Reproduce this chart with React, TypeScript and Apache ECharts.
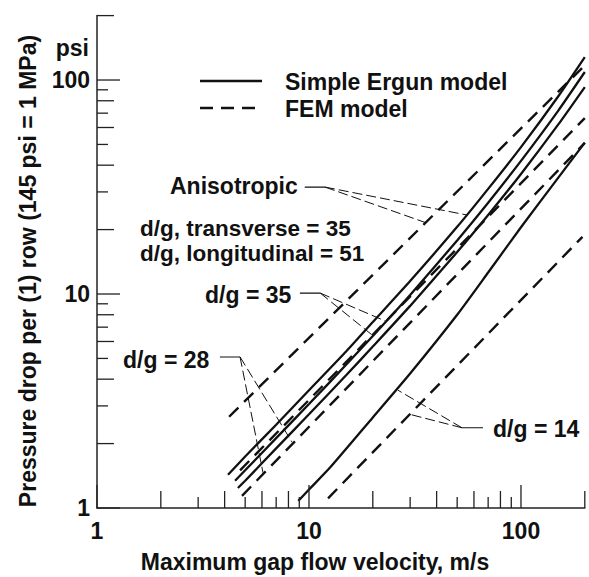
import React, { useEffect, useRef } from 'react';
import * as echarts from 'echarts';

// ---- axis ticks ----
const xMajorTicks = [1, 10, 100];
const xMinorLongTicks = [2, 4, 6, 8, 20, 40, 60, 80, 200];
const xMinorShortTicks = [3, 5, 7, 9, 30, 50, 70, 90];
const yMajorTicks = [1, 10, 100];
const yMinorLongTicks = [2, 4, 6, 8, 20, 40, 60, 80, 200];
const yMinorShortTicks = [3, 5, 7, 9, 30, 50, 70, 90];

// ---- Simple Ergun model (solid) ----
const anisoErgunX = [4.15, 5, 7, 10, 15, 20, 30, 50, 70, 100, 150, 200];
const anisoErgunY = [1.43, 1.74, 2.45, 3.55, 5.4, 7.4, 11.5, 20.6, 31, 48.6, 84, 128];
const dg35ErgunX = [4.48, 5, 7, 10, 15, 20, 30, 50, 70, 100, 150, 200];
const dg35ErgunY = [1.34, 1.5, 2.12, 3.06, 4.68, 6.37, 9.9, 17.8, 26.7, 41.9, 72, 109];
const dg28ErgunX = [4.62, 5, 7, 10, 15, 20, 30, 50, 70, 100, 150, 200];
const dg28ErgunY = [1.24, 1.34, 1.9, 2.74, 4.18, 5.68, 8.8, 15.7, 23.4, 36.4, 62, 92.7];
const dg14ErgunX = [8.9, 10, 12.6, 20, 30, 50, 70, 100, 150, 200];
const dg14ErgunY = [1.08, 1.22, 1.55, 2.65, 4.25, 8.0, 12.6, 20.5, 35, 51];

// ---- FEM model (dashed) ----
const anisoFemX = [4.2, 200];
const anisoFemY = [2.67, 117];
const dg35FemX = [4.73, 200];
const dg35FemY = [1.5, 66.4];
const dg28FemX = [4.83, 200];
const dg28FemY = [1.14, 50.8];
const dg14FemX = [12.3, 195];
const dg14FemY = [1.11, 18.5];

// ---- annotation leaders (data coordinates) ----
const anisoConnector = [[9.55, 31.6], [11.9, 31.6]];
const anisoLeaderA = [[11.9, 31.6], [55.6, 23.4]];
const anisoLeaderB = [[11.9, 31.6], [35.3, 21.6]];
const dg35Connector = [[9.06, 10.1], [11.3, 10.1]];
const dg35LeaderA = [[11.3, 10.1], [19.8, 6.45]];
const dg35LeaderB = [[11.3, 10.1], [23.1, 7.45]];
const dg28Connector = [[3.8, 5.08], [4.73, 5.08]];
const dg28LeaderA = [[4.73, 5.08], [6.07, 1.46]];
const dg28LeaderB = [[4.73, 5.08], [8.32, 2.03]];
const dg14Connector = [[52.7, 2.37], [66.2, 2.37]];
const dg14LeaderA = [[52.7, 2.37], [26.3, 3.55]];
const dg14LeaderB = [[52.7, 2.37], [29.9, 2.74]];

const FONT = '"Liberation Sans", Arial, Helvetica, sans-serif';
const FS = 23;
const INK = '#111';

export default function App() {
  const ref = useRef<HTMLDivElement>(null);

  useEffect(() => {
    const chart = echarts.init(ref.current!, null, { renderer: 'svg' });
    const zip = (xs: number[], ys: number[]) => xs.map((x, i) => [x, ys[i]]);

    const solid = (name: string, xs: number[], ys: number[]) => ({
      type: 'line', name, data: zip(xs, ys), symbol: 'none', showSymbol: false,
      smooth: 0.2, silent: true, z: 3,
      lineStyle: { color: INK, width: 2.3 },
    });
    const dashed = (name: string, xs: number[], ys: number[]) => ({
      type: 'line', name, data: zip(xs, ys), symbol: 'none', showSymbol: false,
      silent: true, z: 3,
      lineStyle: { color: INK, width: 2.4, type: [13, 8] },
    });
    const leader = (pts: number[][]) => ({
      type: 'line', data: pts, symbol: 'none', showSymbol: false, silent: true, z: 4,
      lineStyle: { color: INK, width: 1, type: [10, 4] },
    });
    const connector = (pts: number[][]) => ({
      type: 'line', data: pts, symbol: 'none', showSymbol: false, silent: true, z: 4,
      lineStyle: { color: INK, width: 1.1 },
    });
    const ticks = (vals: number[], axis: 'x' | 'y', len: number) => ({
      type: 'custom', silent: true, z: 5,
      data: vals.map((v) => (axis === 'x' ? [v, 1] : [1, v])),
      renderItem: (_p: any, api: any) => {
        const p = api.coord([api.value(0), api.value(1)]);
        const shape = axis === 'x'
          ? { x1: p[0], y1: p[1], x2: p[0], y2: p[1] - len }
          : { x1: p[0], y1: p[1], x2: p[0] + len, y2: p[1] };
        return { type: 'line', shape, style: { stroke: '#222', lineWidth: 1.3 } };
      },
    });

    const isDecade = (v: number) => Math.abs(Math.log10(v) - Math.round(Math.log10(v))) < 1e-6;
    const labelFmt = (v: number) => (isDecade(v) ? String(Math.round(v)) : '');

    const txt = (text: string, x: number, y: number, align = 'left', extra: any = {}, size = FS) => ({
      type: 'text', x, y, ...extra,
      style: {
        text, x: 0, y: 0, fill: INK, font: `bold ${size}px ${FONT}`,
        textAlign: align, textVerticalAlign: 'middle', align, verticalAlign: 'middle',
      },
    });

    chart.setOption({
      animation: false,
      backgroundColor: '#fff',
      grid: { left: 97, top: 15.6, width: 487.8, height: 492.4, containLabel: false },
      xAxis: {
        type: 'log', logBase: 10, min: 1, max: 200,
        axisLine: { lineStyle: { color: '#222', width: 1.5 } },
        axisTick: { show: false },
        splitLine: { show: false },
        minorTick: { show: false },
        axisLabel: { formatter: labelFmt, margin: 11, color: INK, fontFamily: FONT, fontWeight: 'bold', fontSize: FS },
      },
      yAxis: {
        type: 'log', logBase: 10, min: 1, max: 200,
        axisLine: { show: true, lineStyle: { color: '#222', width: 1.5 } },
        axisTick: { show: false },
        splitLine: { show: false },
        minorTick: { show: false },
        axisLabel: { formatter: labelFmt, margin: 7, color: INK, fontFamily: FONT, fontWeight: 'bold', fontSize: FS },
      },
      series: [
        ticks(xMajorTicks, 'x', 23),
        ticks(xMinorLongTicks, 'x', 17),
        ticks(xMinorShortTicks, 'x', 11),
        ticks(yMajorTicks, 'y', 23),
        ticks(yMinorLongTicks, 'y', 17),
        ticks(yMinorShortTicks, 'y', 11),
        solid('Anisotropic Ergun', anisoErgunX, anisoErgunY),
        solid('d/g=35 Ergun', dg35ErgunX, dg35ErgunY),
        solid('d/g=28 Ergun', dg28ErgunX, dg28ErgunY),
        solid('d/g=14 Ergun', dg14ErgunX, dg14ErgunY),
        dashed('Anisotropic FEM', anisoFemX, anisoFemY),
        dashed('d/g=35 FEM', dg35FemX, dg35FemY),
        dashed('d/g=28 FEM', dg28FemX, dg28FemY),
        dashed('d/g=14 FEM', dg14FemX, dg14FemY),
        connector(anisoConnector), leader(anisoLeaderA), leader(anisoLeaderB),
        connector(dg35Connector), leader(dg35LeaderA), leader(dg35LeaderB),
        connector(dg28Connector), leader(dg28LeaderA), leader(dg28LeaderB),
        connector(dg14Connector), leader(dg14LeaderA), leader(dg14LeaderB),
      ],
      graphic: [
        { type: 'line', shape: { x1: 200, y1: 81, x2: 262, y2: 81 }, style: { stroke: INK, lineWidth: 2.3 } },
        { type: 'line', shape: { x1: 200, y1: 108, x2: 262, y2: 108 }, style: { stroke: INK, lineWidth: 2.4, lineDash: [13, 8] } },
        txt('Simple Ergun model', 285, 82),
        txt('FEM model', 285, 109),
        txt('psi', 89, 48, 'right'),
        txt('Anisotropic', 170, 186),
        txt('d/g, transverse = 35', 140, 228, 'left', {}, 22.5),
        txt('d/g, longitudinal = 51', 140, 253, 'left', {}, 22.5),
        txt('d/g = 35', 205, 295),
        txt('d/g = 28', 123, 360),
        txt('d/g = 14', 493, 429),
        txt('Maximum gap flow velocity, m/s', 315, 562, 'center'),
        txt('Pressure drop per (1) row (145 psi = 1 MPa)', 28, 271, 'center', { rotation: Math.PI / 2 }),
      ],
    });

    return () => chart.dispose();
  }, []);

  return (
    <div
      ref={ref}
      style={{ position: 'fixed', left: 0, top: 0, width: 589, height: 577, background: '#fff' }}
    />
  );
}
